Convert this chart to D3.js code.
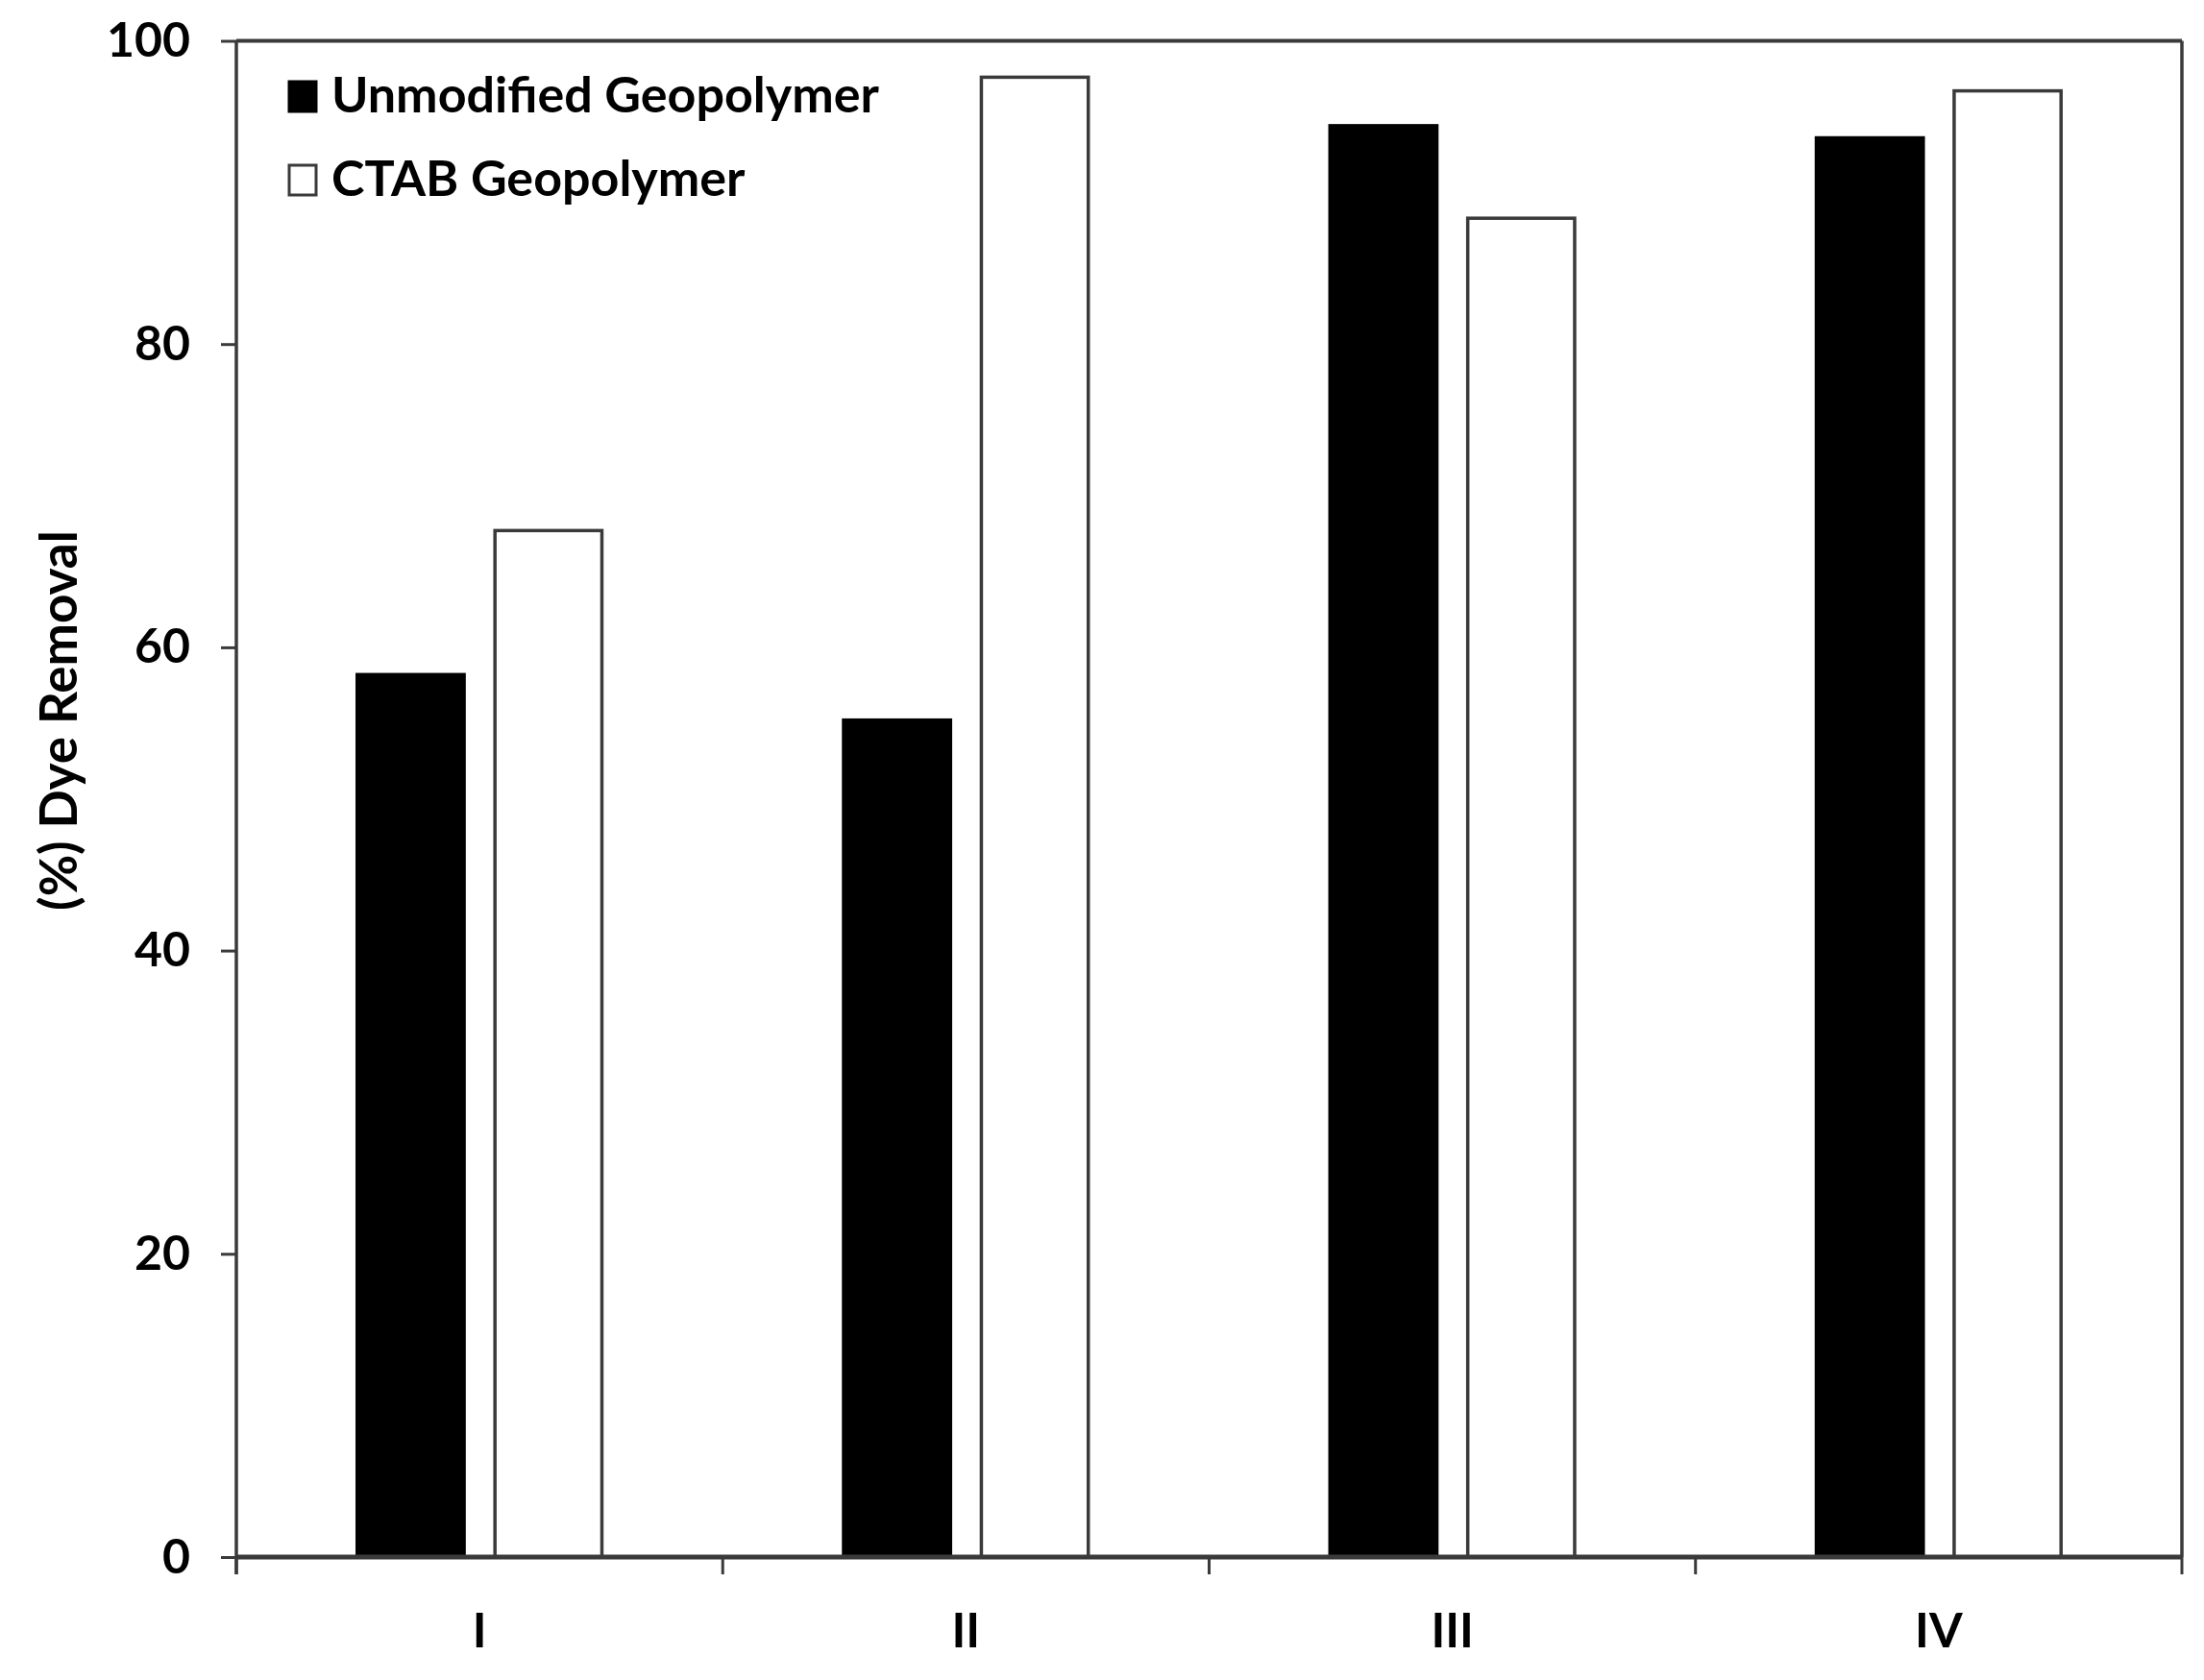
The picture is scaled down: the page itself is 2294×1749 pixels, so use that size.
<!DOCTYPE html>
<html><head><meta charset="utf-8">
<script src="https://cdn.jsdelivr.net/npm/d3@7"></script>
<style>body{margin:0;background:#fff}svg{display:block}</style>
</head><body>
<script>
const categories = ["I", "II", "III", "IV"];
const seriesNames = ["Unmodified Geopolymer", "CTAB Geopolymer"];
const unmodified = [58.2, 55.2, 94.4, 93.6];
const ctab = [67.7, 97.6, 88.3, 96.7];
const yTicks = [0, 20, 40, 60, 80, 100];
const yTitle = "(%) Dye Removal";

const W = 2294, H = 1749;
const m = {left: 246, right: 2294 - 2271, top: 42.5, bottom: H - 1621};
const iw = W - m.left - m.right, ih = H - m.top - m.bottom;
const font = "Lato, 'Open Sans', sans-serif";
const lineCol = "#3a3a3a";

const svg = d3.select("body").append("svg").attr("width", W).attr("height", H);
const g = svg.append("g").attr("transform", `translate(${m.left},${m.top})`);

const x0 = d3.scaleBand().domain(categories).range([0, iw]).padding(0);
const x1 = d3.scaleBand().domain(seriesNames).range([0, x0.bandwidth()]).paddingInner(0.224).paddingOuter(0.877);
const y = d3.scaleLinear().domain([0, 100]).range([ih, 0]);

const rows = categories.map((c, i) => ({cat: c, vals: [{s: seriesNames[0], v: unmodified[i]}, {s: seriesNames[1], v: ctab[i]}]}));

// bars
const grp = g.selectAll("g.cat").data(rows).join("g").attr("class", "cat")
  .attr("transform", d => `translate(${x0(d.cat)},0)`);
grp.selectAll("rect").data(d => d.vals).join("rect")
  .attr("x", d => x1(d.s))
  .attr("y", d => y(d.v))
  .attr("width", x1.bandwidth())
  .attr("height", d => y(0) - y(d.v))
  .attr("fill", d => d.s === seriesNames[0] ? "#000" : "#fff")
  .attr("stroke", d => d.s === seriesNames[0] ? "#000" : lineCol)
  .attr("stroke-width", 3.5);

// frame top & right
g.append("line").attr("x1", 0).attr("x2", iw).attr("y1", 0).attr("y2", 0).attr("stroke", lineCol).attr("stroke-width", 4);
g.append("line").attr("x1", iw).attr("x2", iw).attr("y1", 0).attr("y2", ih).attr("stroke", lineCol).attr("stroke-width", 3.5);

// y axis
const yAxis = g.append("g").call(d3.axisLeft(y).tickValues(yTicks).tickSize(16).tickPadding(32).tickFormat(d3.format("d")));
yAxis.select(".domain").attr("stroke", lineCol).attr("stroke-width", 3.5).attr("d", `M0,${ih + 18}V0`);
yAxis.selectAll(".tick line").attr("stroke", lineCol).attr("stroke-width", 3);
yAxis.selectAll("text").attr("font-family", font).attr("font-weight", 700).attr("font-size", 50).attr("fill", "#000");

// x axis: boundary ticks
const bounds = categories.map(c => x0(c)).concat([iw]);
const xg = g.append("g").attr("transform", `translate(0,${ih})`);
xg.append("line").attr("x1", 0).attr("x2", iw).attr("stroke", lineCol).attr("stroke-width", 5);
xg.selectAll("line.tk").data(bounds).join("line").attr("class", "tk")
  .attr("x1", d => d).attr("x2", d => d).attr("y1", 0).attr("y2", 18)
  .attr("stroke", lineCol).attr("stroke-width", 3);
xg.selectAll("text").data(categories).join("text")
  .attr("x", d => x0(d) + x0.bandwidth() / 2)
  .attr("y", 94)
  .attr("text-anchor", "middle")
  .attr("font-family", font).attr("font-weight", 700).attr("font-size", 50)
  .text(d => d);

// y title
svg.append("text")
  .attr("transform", `translate(80,750) rotate(-90)`)
  .attr("text-anchor", "middle")
  .attr("font-family", font).attr("font-weight", 700).attr("font-size", 53)
  .text(yTitle);

// legend
const leg = svg.append("g");
const legItems = seriesNames.map((s, i) => ({s, i}));
leg.selectAll("rect").data(legItems).join("rect")
  .attr("x", 301).attr("y", d => 85 + d.i * 87)
  .attr("width", 28).attr("height", 31)
  .attr("fill", d => d.i === 0 ? "#000" : "#fff")
  .attr("stroke", d => d.i === 0 ? "#000" : lineCol)
  .attr("stroke-width", 3);
leg.selectAll("text").data(legItems).join("text")
  .attr("x", 345).attr("y", d => 117 + d.i * 87)
  .attr("font-family", font).attr("font-weight", 700).attr("font-size", 52)
  .text(d => d.s);
</script>
</body></html>
